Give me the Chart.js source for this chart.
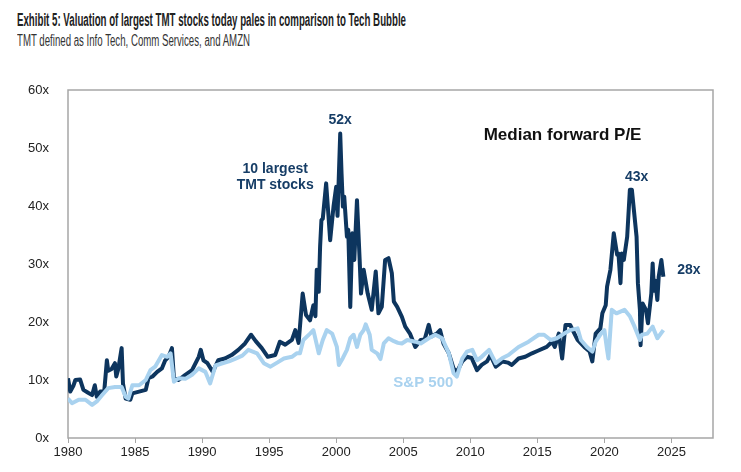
<!DOCTYPE html>
<html>
<head>
<meta charset="utf-8">
<script src="https://cdn.jsdelivr.net/npm/chart.js@4.4.1/dist/chart.umd.min.js"></script>
<style>
  body { margin: 0; background: #fff; }
  #wrap { position: relative; width: 741px; height: 472px; }
  #title, #subtitle { position: absolute; left: 17px; white-space: nowrap; transform-origin: 0 0; }
  #title { top: 10px; font: bold 18px "Liberation Sans", Arial, sans-serif; color: #222; }
  #subtitle { top: 32px; font: 16px "Liberation Sans", Arial, sans-serif; color: #333; }
  canvas { position: absolute; left: 0; top: 0; }
</style>
</head>
<body>
<div id="wrap">
  <div id="title">Exhibit 5: Valuation of largest TMT stocks today pales in comparison to Tech Bubble</div>
  <div id="subtitle">TMT defined as Info Tech, Comm Services, and AMZN</div>
  <canvas id="container" width="741" height="472"></canvas>
</div>
<script>
// median forward P/E
var tmtDates = [1980.0, 1980.17, 1980.4, 1980.55, 1980.9, 1981.15, 1981.5, 1981.8, 1982.0, 1982.15, 1982.4, 1982.7, 1982.9, 1983.0, 1983.25, 1983.5, 1983.6, 1983.75, 1984.0, 1984.1, 1984.3, 1984.65, 1984.8, 1985.3, 1985.8, 1986.0, 1986.3, 1986.65, 1987.0, 1987.25, 1987.5, 1987.75, 1987.9, 1988.25, 1988.75, 1989.25, 1989.75, 1989.9, 1990.1, 1990.4, 1990.8, 1991.2, 1991.7, 1992.2, 1992.7, 1993.2, 1993.65, 1994.0, 1994.45, 1994.9, 1995.45, 1995.8, 1996.2, 1996.7, 1996.95, 1997.2, 1997.5, 1997.75, 1998.05, 1998.3, 1998.45, 1998.55, 1998.7, 1998.8, 1998.9, 1999.0, 1999.25, 1999.4, 1999.55, 1999.8, 2000.0, 2000.1, 2000.3, 2000.4, 2000.5, 2000.6, 2000.8, 2000.9, 2001.05, 2001.2, 2001.35, 2001.55, 2001.75, 2001.85, 2002.05, 2002.35, 2002.65, 2002.95, 2003.15, 2003.4, 2003.65, 2003.9, 2004.15, 2004.3, 2004.55, 2004.9, 2005.15, 2005.5, 2005.9, 2006.3, 2006.6, 2006.9, 2007.1, 2007.5, 2007.75, 2008.0, 2008.4, 2008.75, 2009.0, 2009.4, 2009.75, 2010.1, 2010.5, 2010.85, 2011.25, 2011.5, 2011.9, 2012.4, 2012.8, 2013.1, 2013.6, 2014.1, 2014.6, 2015.0, 2015.7, 2016.1, 2016.3, 2016.6, 2016.85, 2017.1, 2017.45, 2017.7, 2018.0, 2018.25, 2018.5, 2018.9, 2019.1, 2019.35, 2019.7, 2019.85, 2020.1, 2020.2, 2020.45, 2020.7, 2020.95, 2021.05, 2021.2, 2021.3, 2021.45, 2021.7, 2021.9, 2022.05, 2022.4, 2022.5, 2022.65, 2022.7, 2022.85, 2023.1, 2023.25, 2023.5, 2023.6, 2023.7, 2023.8, 2023.95, 2024.05, 2024.25, 2024.4];
var tmtValues = [10.3, 8.0, 9.0, 10.0, 10.1, 8.3, 7.8, 7.4, 9.1, 7.1, 8.0, 8.0, 13.4, 11.6, 11.9, 12.9, 10.6, 11.9, 15.5, 9.4, 6.8, 6.6, 7.7, 8.0, 8.3, 10.3, 10.6, 11.4, 12.0, 13.4, 14.0, 15.5, 10.3, 10.0, 10.9, 11.7, 14.0, 15.2, 13.4, 12.9, 11.4, 13.4, 13.7, 14.3, 15.2, 16.3, 17.8, 16.7, 15.5, 14.0, 14.3, 16.6, 16.1, 16.9, 18.6, 16.4, 24.9, 21.2, 20.3, 22.9, 21.0, 29.0, 25.2, 33.0, 37.6, 37.8, 43.9, 39.1, 34.1, 39.9, 43.3, 38.3, 52.5, 45.6, 39.9, 41.6, 34.7, 35.9, 22.6, 35.3, 30.7, 41.0, 30.7, 24.9, 29.0, 24.9, 22.1, 28.7, 21.5, 22.6, 30.7, 31.0, 28.4, 23.5, 22.6, 20.9, 19.2, 18.0, 15.7, 16.9, 17.0, 19.5, 17.5, 18.0, 18.6, 16.3, 14.6, 12.0, 11.4, 13.2, 14.0, 13.8, 11.7, 12.6, 13.2, 14.3, 12.3, 13.2, 13.0, 12.6, 13.7, 14.0, 14.6, 15.0, 15.7, 16.6, 15.7, 18.0, 13.7, 19.5, 19.5, 18.3, 16.9, 16.3, 15.7, 14.9, 13.2, 18.0, 18.9, 21.5, 22.9, 26.1, 29.0, 35.3, 31.6, 31.8, 26.7, 31.8, 30.7, 34.7, 42.8, 42.8, 34.7, 26.7, 22.1, 16.0, 23.2, 22.1, 19.8, 24.9, 30.1, 25.4, 27.1, 23.8, 27.8, 30.7, 27.8];

var spxDates = [1980.0, 1980.3, 1980.8, 1981.3, 1981.8, 1982.15, 1982.55, 1983.0, 1983.5, 1984.0, 1984.3, 1984.5, 1984.8, 1985.3, 1985.8, 1986.15, 1986.5, 1987.0, 1987.4, 1987.65, 1987.9, 1988.25, 1988.75, 1989.25, 1989.75, 1990.25, 1990.6, 1991.0, 1991.4, 1992.0, 1992.5, 1993.0, 1993.45, 1994.1, 1994.6, 1995.1, 1995.6, 1996.1, 1996.7, 1997.05, 1997.3, 1997.55, 1998.05, 1998.3, 1998.7, 1999.0, 1999.3, 1999.7, 2000.05, 2000.2, 2000.5, 2000.8, 2001.05, 2001.3, 2001.55, 2001.8, 2002.05, 2002.2, 2002.5, 2002.65, 2003.05, 2003.3, 2003.55, 2003.9, 2004.3, 2004.6, 2004.9, 2005.3, 2005.9, 2006.3, 2006.9, 2007.4, 2007.9, 2008.4, 2008.75, 2009.0, 2009.4, 2009.75, 2010.15, 2010.5, 2010.85, 2011.4, 2011.9, 2012.4, 2012.85, 2013.6, 2014.35, 2015.1, 2015.5, 2016.0, 2016.45, 2017.0, 2017.45, 2018.0, 2018.25, 2018.7, 2019.1, 2019.35, 2019.75, 2020.0, 2020.2, 2020.3, 2020.55, 2020.9, 2021.5, 2021.9, 2022.25, 2022.65, 2022.8, 2023.2, 2023.6, 2023.95, 2024.4];
var spxValues = [6.8, 6.0, 6.6, 6.6, 5.7, 6.3, 7.4, 8.6, 8.8, 8.8, 7.1, 6.8, 9.1, 9.1, 10.0, 11.7, 12.3, 14.3, 14.0, 14.6, 9.7, 10.3, 10.2, 10.9, 12.0, 11.4, 9.4, 12.5, 12.8, 13.2, 13.7, 14.2, 15.2, 14.6, 12.9, 12.3, 13.0, 13.7, 14.0, 14.6, 14.6, 16.9, 18.0, 18.6, 14.6, 16.9, 18.6, 18.0, 15.7, 12.6, 13.8, 15.2, 17.2, 17.8, 15.7, 17.8, 18.6, 19.6, 17.8, 15.2, 14.6, 13.6, 16.3, 17.2, 16.7, 16.4, 16.3, 16.9, 16.6, 16.3, 17.2, 17.8, 17.2, 14.6, 11.2, 10.6, 13.7, 14.9, 15.2, 13.4, 14.0, 15.2, 12.9, 13.8, 14.3, 15.7, 16.6, 17.8, 17.8, 16.9, 17.2, 18.0, 18.6, 18.9, 16.9, 15.7, 14.9, 16.6, 18.0, 18.6, 15.2, 13.7, 22.1, 21.5, 22.1, 21.0, 19.2, 16.9, 17.8, 18.0, 19.2, 17.2, 18.6];

var xTickYears = [1980, 1985, 1990, 1995, 2000, 2005, 2010, 2015, 2020, 2025];
var yTickValues = [0, 10, 20, 30, 40, 50, 60];

// [text, year, value, align, colour, font]
var notes = [
    ['52x', 2000.3, 54.8, 'center', '#163d66', 'bold 14px "Liberation Sans", Arial, sans-serif'],
    ['10 largest', 1995.45, 46.4, 'center', '#163d66', 'bold 14px "Liberation Sans", Arial, sans-serif'],
    ['TMT stocks', 1995.45, 43.6, 'center', '#163d66', 'bold 14px "Liberation Sans", Arial, sans-serif'],
    ['Median forward P/E', 2011.0, 52.2, 'left', '#111111', 'bold 17px "Liberation Sans", Arial, sans-serif'],
    ['43x', 2022.4, 45.0, 'center', '#163d66', 'bold 14px "Liberation Sans", Arial, sans-serif'],
    ['28x', 2026.3, 29.0, 'center', '#163d66', 'bold 14px "Liberation Sans", Arial, sans-serif'],
    ['S&P 500', 2006.5, 9.5, 'center', '#a9d2ef', 'bold 15px "Liberation Sans", Arial, sans-serif']
];

// squeeze the heading lines to the condensed width of the original
function squeeze(id, targetWidth) {
    var el = document.getElementById(id);
    var w = el.getBoundingClientRect().width;
    if (w > targetWidth) el.style.transform = 'scaleX(' + (targetWidth / w) + ')';
}
squeeze('title', 389);
squeeze('subtitle', 233);

function toPoints(dates, values) {
    var pts = [];
    for (var i = 0; i < dates.length; i++) {
        pts.push({x: dates[i], y: values[i]});
    }
    return pts;
}

var frameAndNotes = {
    id: 'frameAndNotes',
    beforeDatasetsDraw: function(chart) {
        var a = chart.chartArea, ctx = chart.ctx;
        ctx.save();
        ctx.strokeStyle = '#a6a6a6';
        ctx.lineWidth = 1.5;
        ctx.strokeRect(a.left, a.top, a.right - a.left, a.bottom - a.top);
        ctx.restore();
    },
    afterDatasetsDraw: function(chart) {
        var ctx = chart.ctx, xs = chart.scales.x, ys = chart.scales.y;
        ctx.save();
        ctx.textBaseline = 'middle';
        notes.forEach(function(n) {
            ctx.font = n[5];
            ctx.fillStyle = n[4];
            ctx.textAlign = n[3];
            ctx.fillText(n[0], xs.getPixelForValue(n[1]), ys.getPixelForValue(n[2]));
        });
        ctx.restore();
    }
};

var tickFont = {family: '"Liberation Sans", Arial, sans-serif', size: 13};

var chart = new Chart(document.getElementById('container'), {
    type: 'line',
    data: {
        datasets: [
            {
                label: '10 largest TMT stocks',
                data: toPoints(tmtDates, tmtValues),
                borderColor: '#0d355e',
                borderWidth: 4,
                order: 2
            },
            {
                label: 'S&P 500',
                data: toPoints(spxDates, spxValues),
                borderColor: '#a9d2ef',
                borderWidth: 4,
                order: 1
            }
        ]
    },
    options: {
        responsive: false,
        animation: false,
        layout: {padding: {left: 0, top: 90, right: 28, bottom: 0}},
        elements: {
            point: {radius: 0},
            line: {tension: 0, borderJoinStyle: 'round'}
        },
        plugins: {
            legend: {display: false},
            tooltip: {enabled: false}
        },
        scales: {
            x: {
                type: 'linear',
                min: 1980,
                max: 2028.1,
                afterBuildTicks: function(axis) {
                    axis.ticks = xTickYears.map(function(v) { return {value: v}; });
                },
                afterFit: function(axis) { axis.height = 34; },
                grid: {display: true, drawOnChartArea: false, drawTicks: true, tickLength: 5, color: '#a6a6a6'},
                border: {display: false},
                ticks: {
                    font: tickFont,
                    color: '#222',
                    padding: 2,
                    maxRotation: 0,
                    callback: function(v) { return String(v); }
                }
            },
            y: {
                min: 0,
                max: 60,
                afterBuildTicks: function(axis) {
                    axis.ticks = yTickValues.map(function(v) { return {value: v}; });
                },
                afterFit: function(axis) { axis.width = 68; },
                grid: {display: false},
                border: {display: false},
                ticks: {
                    font: tickFont,
                    color: '#222',
                    padding: 11,
                    callback: function(v) { return v + 'x'; }
                }
            }
        }
    },
    plugins: [frameAndNotes]
});
</script>
</body>
</html>
